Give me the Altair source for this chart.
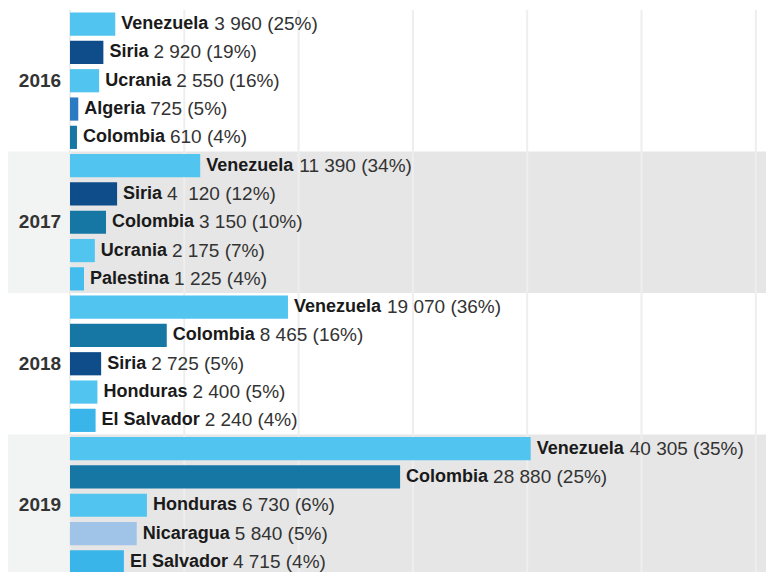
import altair as alt
import pandas as pd

# ---- data ----
years = ["2016", "2017", "2018", "2019"]
countries_2016 = ["Venezuela", "Siria", "Ucrania", "Algeria", "Colombia"]
values_2016 = [3960, 2920, 2550, 725, 610]
shares_2016 = [25, 19, 16, 5, 4]
countries_2017 = ["Venezuela", "Siria", "Colombia", "Ucrania", "Palestina"]
values_2017 = [11390, 4120, 3150, 2175, 1225]
shares_2017 = [34, 12, 10, 7, 4]
countries_2018 = ["Venezuela", "Colombia", "Siria", "Honduras", "El Salvador"]
values_2018 = [19070, 8465, 2725, 2400, 2240]
shares_2018 = [36, 16, 5, 5, 4]
countries_2019 = ["Venezuela", "Colombia", "Honduras", "Nicaragua", "El Salvador"]
values_2019 = [40305, 28880, 6730, 5840, 4715]
shares_2019 = [35, 25, 6, 5, 4]
value_labels = [
    "3 960 (25%)", "2 920 (19%)", "2 550 (16%)", "\u00a0725 (5%)", "\u00a0610 (4%)",
    "11 390 (34%)", "4\u00a0 120 (12%)", "3 150 (10%)", "2 175 (7%)", "1 225 (4%)",
    "19 070 (36%)", "8 465 (16%)", "2 725 (5%)", "2 400 (5%)", "2 240 (4%)",
    "40 305 (35%)", "28 880 (25%)", "6 730 (6%)", "5 840 (5%)", "4 715 (4%)",
]
grid_ticks = [0, 10000, 20000, 30000, 40000, 50000, 60000]
shaded_years = ["2017", "2019"]

# ---- styles ----
country_colors = {
    "Venezuela": "#52c4f0", "Siria": "#0f4c8a", "Ucrania": "#52c4f0",
    "Algeria": "#2a7bc4", "Colombia": "#1677a4", "Palestina": "#45bcee",
    "Honduras": "#52c4f0", "Nicaragua": "#9fc4e7", "El Salvador": "#3ab5e9",
}
FONT = "Liberation Sans"
FS = 18
W, H = 696, 566
PX_PER_UNIT = 0.01143
XMAX = W / PX_PER_UNIT
NROWS = 20

BOLD = {" ": 278, "A": 722, "C": 722, "E": 667, "H": 722, "N": 722, "P": 667,
        "S": 667, "U": 722, "V": 667, "a": 556, "b": 611, "c": 556, "d": 611,
        "e": 556, "g": 611, "i": 278, "l": 278, "m": 889, "n": 611, "o": 611,
        "r": 389, "s": 556, "t": 333, "u": 611, "v": 556, "z": 500, "q": 611}


def bold_width(s):
    return sum(BOLD.get(c, 600) for c in s) * FS / 1000.0


all_countries = countries_2016 + countries_2017 + countries_2018 + countries_2019
all_values = values_2016 + values_2017 + values_2018 + values_2019
all_shares = shares_2016 + shares_2017 + shares_2018 + shares_2019
all_years = [y for y in years for _ in range(5)]

rows = []
for i, (c, v, s, yr, lab) in enumerate(zip(all_countries, all_values, all_shares, all_years, value_labels)):
    rows.append({
        "row": i, "top": i + 0.09, "bottom": i + 0.91, "mid": i + 0.5,
        "country": c, "value": v, "share": s, "year": yr, "label": lab,
        "label_x": v + (6 + bold_width(c) + 5) / PX_PER_UNIT,
    })
df = pd.DataFrame(rows)

ydf = pd.DataFrame({
    "year": years,
    "start": [years.index(y) * 5 for y in years],
})
ydf["end"] = ydf["start"] + 5
ydf["mid"] = ydf["start"] + 2.5
bgdf = ydf[ydf["year"].isin(shaded_years)]
gdf = pd.DataFrame({"tick": grid_ticks})

xs = alt.Scale(domain=[0, XMAX], nice=False, zero=True)
ys = alt.Scale(domain=[0, NROWS], reverse=True, nice=False, zero=False)

bg_left = alt.Chart(bgdf).mark_rect(color="#f2f3f3").encode(
    x=alt.value(-62), x2=alt.value(0),
    y=alt.Y("start:Q", scale=ys, axis=None), y2="end:Q",
)
bg_plot = alt.Chart(bgdf).mark_rect(color="#e6e6e6").encode(
    x=alt.value(0), x2=alt.value(W),
    y=alt.Y("start:Q", scale=ys, axis=None), y2="end:Q",
)
grid = alt.Chart(gdf).mark_rule(color="#eeeeee", strokeWidth=2).encode(
    x=alt.X("tick:Q", scale=xs, axis=None),
)
bars = alt.Chart(df).mark_rect().encode(
    x=alt.X("value:Q", scale=xs, axis=None), x2=alt.datum(0),
    y=alt.Y("top:Q", scale=ys, axis=None), y2="bottom:Q",
    color=alt.Color("country:N", legend=None,
                    scale=alt.Scale(domain=list(country_colors.keys()),
                                    range=list(country_colors.values()))),
)
names = alt.Chart(df).mark_text(
    align="left", baseline="middle", dx=6, font=FONT, fontSize=FS,
    fontWeight="bold", color="#1a1a1a",
).encode(
    x=alt.X("value:Q", scale=xs, axis=None),
    y=alt.Y("mid:Q", scale=ys, axis=None),
    text="country:N",
)
nums = alt.Chart(df).mark_text(
    align="left", baseline="middle", font=FONT, fontSize=19,
    fontWeight="normal", color="#333333",
).encode(
    x=alt.X("label_x:Q", scale=xs, axis=None),
    y=alt.Y("mid:Q", scale=ys, axis=None),
    text="label:N",
)
year_text = alt.Chart(ydf).mark_text(
    align="center", baseline="middle", font=FONT, fontSize=19,
    fontWeight="bold", color="#333333",
).encode(
    x=alt.value(-30),
    y=alt.Y("mid:Q", scale=ys, axis=None),
    text="year:N",
)

chart = alt.layer(bg_left, bg_plot, grid, bars, names, nums, year_text).properties(
    width=W, height=H,
    padding={"left": 62, "top": 2, "right": 0, "bottom": 0},
    autosize=alt.AutoSizeParams(type="none"),
).configure_view(stroke=None)

chart.save("out.html", embed_options={"renderer": "svg", "actions": False})
